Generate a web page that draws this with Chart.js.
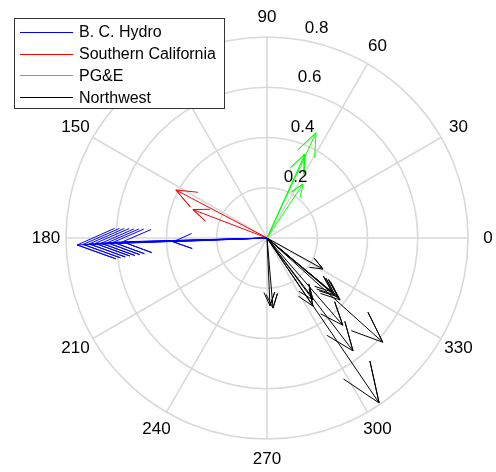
<!DOCTYPE html>
<html>
<head>
<meta charset="utf-8">
<script src="https://cdn.jsdelivr.net/npm/chart.js@4/dist/chart.umd.min.js"></script>
<style>
html,body{margin:0;padding:0;background:#fff;}
#wrap{width:496px;height:472px;position:relative;}
</style>
</head>
<body>
<div id="wrap"><canvas id="c"></canvas></div>
<script>
// ---- data (angle in degrees, magnitude) ----
const seriesNames = ["B. C. Hydro", "Southern California", "PG&E", "Northwest"];
const bcHydroAngle = [182.1, 182.0, 181.9, 181.8, 181.8, 181.7, 181.6, 181.5, 182.3];
const bcHydroMag   = [0.756, 0.732, 0.708, 0.684, 0.660, 0.636, 0.612, 0.575, 0.374];
const soCalAngle   = [152.2, 159.0];
const soCalMag     = [0.410, 0.316];
const pgeAngle     = [65.0, 65.7, 56.3];
const pgeMag       = [0.462, 0.367, 0.258];
const northwestAngle = [331.0, 320.3, 320.0, 320.3, 319.7, 304.0, 311.0, 318.0, 307.3, 304.2, 274.9, 272.5, 306.6];
const northwestMag   = [0.255, 0.367, 0.353, 0.336, 0.381, 0.327, 0.460, 0.620, 0.565, 0.794, 0.280, 0.270, 0.307];
const radialTicks = [0.2, 0.4, 0.6, 0.8];
const angleTicks = [0, 30, 60, 90, 120, 150, 180, 210, 240, 270, 300, 330];
const rMax = 0.8;

// compass arrows: origin -> tip -> barb -> tip -> barb, NaN break
function arrows(angles, mags) {
  const pts = [];
  angles.forEach((a, i) => {
    const t = a * Math.PI / 180;
    const u = mags[i] * Math.cos(t), v = mags[i] * Math.sin(t);
    pts.push({x: 0, y: 0});
    pts.push({x: u, y: v});
    pts.push({x: 0.8 * u - 0.08 * v, y: 0.8 * v + 0.08 * u});
    pts.push({x: u, y: v});
    pts.push({x: 0.8 * u + 0.08 * v, y: 0.8 * v - 0.08 * u});
    pts.push({x: NaN, y: NaN});
  });
  return pts;
}
const colors = ["#0000ff", "#ff0000", "#00ff00", "#000000"];
const allData = [
  arrows(bcHydroAngle, bcHydroMag),
  arrows(soCalAngle, soCalMag),
  arrows(pgeAngle, pgeMag),
  arrows(northwestAngle, northwestMag)
];

const FONT = '"Liberation Sans", Arial, Helvetica, sans-serif';

const polarGrid = {
  id: 'polarGrid',
  beforeDatasetsDraw(chart) {
    const ctx = chart.ctx, xs = chart.scales.x, ys = chart.scales.y;
    const cx = xs.getPixelForValue(0), cy = ys.getPixelForValue(0);
    const pr = r => xs.getPixelForValue(r) - cx;
    ctx.save();
    ctx.strokeStyle = '#d9d9d9';
    ctx.lineWidth = 1.6;
    radialTicks.forEach(r => {
      ctx.beginPath();
      ctx.arc(cx, cy, pr(r), 0, Math.PI * 2);
      ctx.stroke();
    });
    for (let a = 0; a < 180; a += 30) {
      const t = a * Math.PI / 180;
      ctx.beginPath();
      ctx.moveTo(xs.getPixelForValue(rMax * Math.cos(t)), ys.getPixelForValue(rMax * Math.sin(t)));
      ctx.moveTo(xs.getPixelForValue(-rMax * Math.cos(t)), ys.getPixelForValue(-rMax * Math.sin(t)));
      ctx.lineTo(xs.getPixelForValue(rMax * Math.cos(t)), ys.getPixelForValue(rMax * Math.sin(t)));
      ctx.stroke();
    }
    // angle labels
    ctx.fillStyle = '#000';
    ctx.font = '17px ' + FONT;
    ctx.textAlign = 'center';
    ctx.textBaseline = 'middle';
    angleTicks.forEach(a => {
      const t = a * Math.PI / 180;
      const rr = rMax * 1.1;
      ctx.fillText(String(a), xs.getPixelForValue(rr * Math.cos(t)), ys.getPixelForValue(rr * Math.sin(t)));
    });
    ctx.restore();
  },
  afterDatasetsDraw(chart) {
    const ctx = chart.ctx, xs = chart.scales.x, ys = chart.scales.y;
    ctx.save();
    ctx.fillStyle = '#000';
    ctx.font = '17px ' + FONT;
    ctx.textAlign = 'left';
    ctx.textBaseline = 'bottom';
    const sp = ctx.measureText('  ').width || 9;
    const t = 82 * Math.PI / 180;
    radialTicks.forEach(r => {
      const rr = r + 0.2 / 20;
      ctx.fillText(String(r), xs.getPixelForValue(rr * Math.cos(t)) + sp, ys.getPixelForValue(rr * Math.sin(t)));
    });
    // legend
    const bx = 14.5, by = 18.5, bw = 210, bh = 90;
    ctx.fillStyle = '#fff';
    ctx.fillRect(bx, by, bw, bh);
    ctx.strokeStyle = '#333';
    ctx.lineWidth = 1;
    ctx.strokeRect(bx, by, bw, bh);
    ctx.font = '16px ' + FONT;
    ctx.textBaseline = 'middle';
    seriesNames.forEach((n, i) => {
      const yy = 32 + i * 21.7;
      ctx.strokeStyle = colors[i];
      ctx.beginPath();
      ctx.moveTo(20, Math.round(yy) + 0.5);
      ctx.lineTo(73, Math.round(yy) + 0.5);
      ctx.stroke();
      ctx.fillStyle = '#000';
      ctx.fillText(n, 79, yy + 1);
    });
    ctx.restore();
  }
};

const S = 251.25; // px per unit
const CX = 267, CY = 238, W = 496, H = 472;
new Chart(document.getElementById('c'), {
  type: 'scatter',
  data: {
    datasets: allData.map((d, i) => ({
      label: seriesNames[i],
      data: d,
      showLine: true,
      spanGaps: false,
      borderColor: colors[i],
      backgroundColor: colors[i],
      borderWidth: 1,
      pointRadius: 0,
      pointHoverRadius: 0,
      tension: 0
    }))
  },
  options: {
    responsive: true,
    maintainAspectRatio: false,
    animation: false,
    layout: {padding: 0},
    plugins: {legend: {display: false}, tooltip: {enabled: false}},
    scales: {
      x: {type: 'linear', display: false, min: -CX / S, max: (W - CX) / S},
      y: {type: 'linear', display: false, min: -(H - CY) / S, max: CY / S}
    }
  },
  plugins: [polarGrid]
});
</script>
</body>
</html>
